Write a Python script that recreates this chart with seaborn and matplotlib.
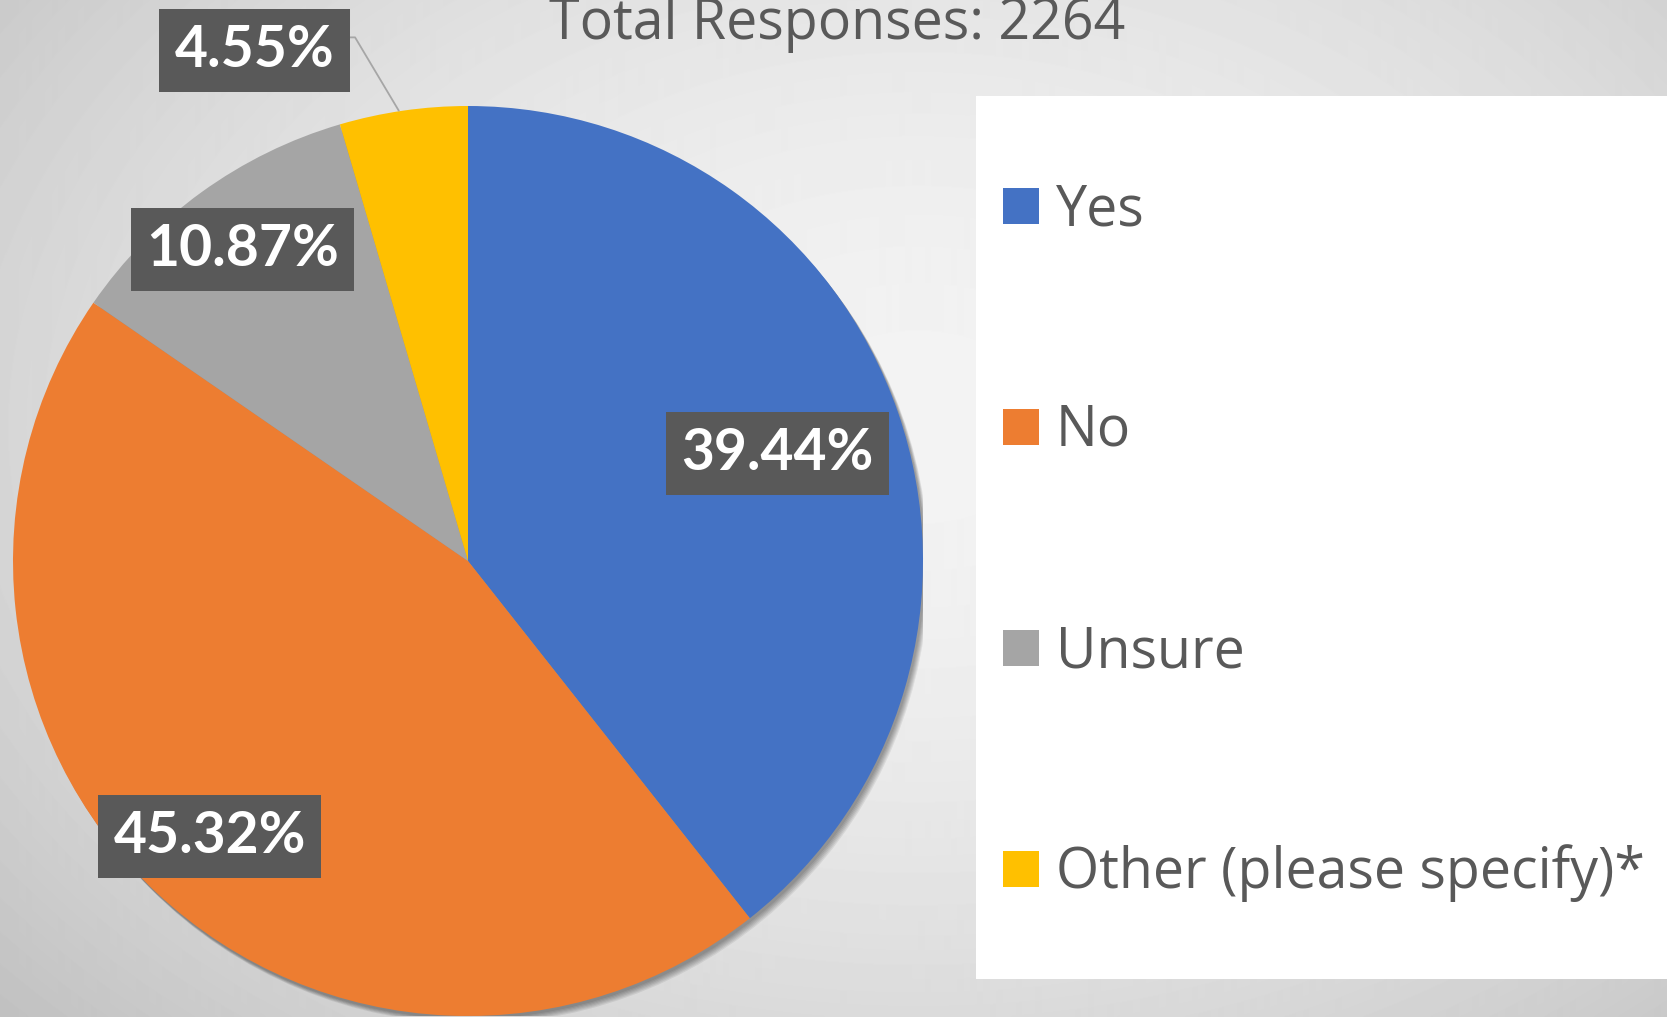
import numpy as np
import matplotlib
matplotlib.use("Agg")
import matplotlib.pyplot as plt
import seaborn as sns
from matplotlib.patches import Rectangle, Circle

# ---- data ----
categories = ["Yes", "No", "Unsure", "Other (please specify)*"]
percentages = [39.44, 45.32, 10.87, 4.55]
label_texts = ["39.44%", "45.32%", "10.87%", "4.55%"]
total_responses = 2264

sns.set_style("white")
plt.rcParams['font.family'] = ['Open Sans', 'DejaVu Sans']
colors = sns.color_palette(["#4472C4", "#ED7D31", "#A5A5A5", "#FFC000"])

W, H = 1667, 1017
fig = plt.figure(figsize=(W / 100, H / 100), dpi=100)

# ---- background radial gradient ----
bg = fig.add_axes([0, 0, 1, 1])
yy, xx = np.mgrid[0:H, 0:W]
cx, cy = W * 0.55, H * 0.42
d = np.sqrt(((xx - cx) / (W * 0.5)) ** 2 + ((yy - cy) / (H * 0.58)) ** 2) / np.sqrt(2)
val = (243 - 46 * np.clip(d, 0, 1.2) ** 1.8) / 255
bg.imshow(val, cmap='gray', vmin=0, vmax=1, extent=[0, 1, 0, 1], aspect='auto', origin='upper')
bg.set_xlim(0, 1)
bg.set_ylim(0, 1)
bg.axis('off')

# ---- pie ----
ax = fig.add_axes([13 / W, 1 / H, 910 / W, 910 / H])
for i in range(6):
    ax.add_patch(Circle((0.004 + 0.0018 * i, -0.006 - 0.0022 * i), 1.0,
                        facecolor='black', edgecolor='none', alpha=0.07, zorder=0))
wedges, _ = ax.pie(percentages, colors=colors, startangle=90, counterclock=False,
                   radius=1.0, wedgeprops=dict(linewidth=0))
for w in wedges:
    w.set_zorder(2)
ax.set_xlim(-1, 1)
ax.set_ylim(-1, 1)
ax.set_aspect('equal')
ax.axis('off')

label_r = [0.72, 0.83, 0.845]
box = dict(boxstyle='square,pad=0.27', facecolor='#595959', edgecolor='none')
for i, w in enumerate(wedges):
    mid = np.deg2rad((w.theta1 + w.theta2) / 2)
    if i < 3:
        x, y = label_r[i] * np.cos(mid), label_r[i] * np.sin(mid)
    else:
        ex, ey = np.cos(mid), np.sin(mid)
        x, y = ex - 0.327, ey + 0.132
        ax.plot([ex - 0.01, ex - 0.106, x], [ey, ey + 0.161, ey + 0.161],
                color='#a6a6a6', lw=1.3, zorder=3, clip_on=False)
    ax.text(x, y, label_texts[i], ha='center', va='center', fontsize=41,
            fontweight='bold', family=['Lato', 'DejaVu Sans'], color='white',
            bbox=box, zorder=5, clip_on=False)

# ---- title ----
fig.text(837 / W, 1 - 39 / H, f"Total Responses: {total_responses}", ha='center',
         va='baseline', fontsize=40, color='#595959')

# ---- legend ----
fig.patches.append(Rectangle((976 / W, 38 / H), (W - 976) / W, 883 / H,
                             transform=fig.transFigure, facecolor='white',
                             edgecolor='none', zorder=1))
for i, cat in enumerate(categories):
    yc = 206 + 221 * i
    fig.patches.append(Rectangle((1003 / W, 1 - (yc + 18) / H), 36 / W, 36 / H,
                                 transform=fig.transFigure, facecolor=colors[i],
                                 edgecolor='none', zorder=2))
    fig.text(1056 / W, 1 - (yc + 19) / H, cat, ha='left', va='baseline',
             fontsize=40, color='#595959', zorder=3)

fig.savefig("out.png", dpi=100)
